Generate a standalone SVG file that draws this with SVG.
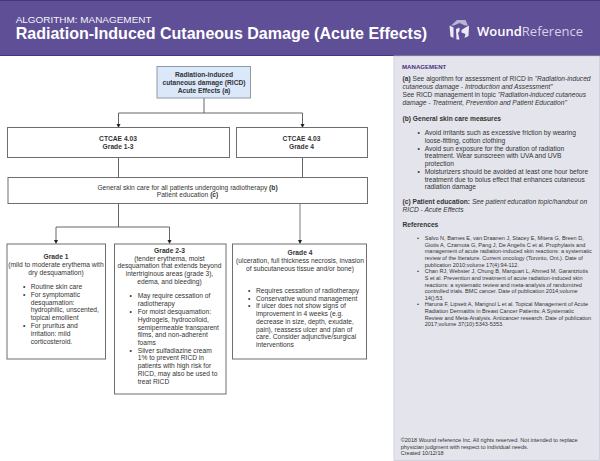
<svg xmlns="http://www.w3.org/2000/svg" width="600" height="461" viewBox="0 0 600 461">
<style>
text{font-family:"Liberation Sans",Arial,sans-serif;fill:#333;font-size:6.68px}
.c{text-anchor:middle}
.b{font-weight:bold}
.i{font-style:italic}
.box{fill:#fff;stroke:#6e6e6e;stroke-width:1}
.ln{fill:none;stroke:#555;stroke-width:.9}
.p{font-size:6.65px}
.r{font-size:5.56px}
.f{font-size:5.55px}
.d{fill:#222}
</style>
<rect width="600" height="461" fill="#fff"/>
<g id="header">
<rect x="0" y="0" width="600" height="55.5" fill="#5f4f96"/>
<path d="M0,.5H600M0,55.5H600" stroke="#46367d" stroke-width="1"/>
<text x="15.7" y="22.900" style="font-size:9.95px;fill:#f4f3f9">ALGORITHM: MANAGEMENT</text>
<text class="b" x="15.7" y="39" style="font-size:16.05px;fill:#fff">Radiation-Induced Cutaneous Damage (Acute Effects)</text>
<path d="M451,25.500L457,20L459.500,20L465.500,20L468,25.500L465,25.500L459.500,23L454,25.500Z" fill="#b9b4d2"/>
<path d="M449.500,25.500L453.500,27.500V38L450.500,36.500ZM456,29L459.500,27.500V31L458,33L459.500,39.500L456.500,39.500ZM461.500,30L465.500,27.500L469,25.500L468.500,36L464.500,38L465.500,34L461.500,32.500Z" fill="#eceaf4"/>
<text x="477" y="36" style="font-family:'Open Sans',sans-serif;font-size:13px;font-weight:600;fill:#fff">Wound<tspan style="fill:#d5d1e6;font-weight:400">Reference</tspan></text>
</g>
<g id="side-panel">
<rect x="394" y="56" width="205.500" height="404.500" fill="#e4e5ec" stroke="#c9cad6" stroke-width=".8"/>
<text class="b" x="402" y="68.500" style="font-size:6.100px;fill:#4b2f7e">MANAGEMENT</text>
<text class="p" x="402.500" y="81.400"><tspan class="b">(a)</tspan> See algorithm for assessment of RICD in <tspan class="i">"Radiation-induced</tspan></text>
<text class="p i" x="402.500" y="89.200">cutaneous damage - Introduction and Assessment"</text>
<text class="p" x="402.500" y="97">See RICD management in topic <tspan class="i">"Radiation-induced cutaneous</tspan></text>
<text class="p i" x="402.500" y="104.800">damage - Treatment, Prevention and Patient Education"</text>
<text class="p b" x="402.500" y="120.800">(b) General skin care measures</text>
<text class="p" x="417.500" y="135.400">•</text><text class="p" x="424.700" y="135.400">Avoid irritants such as excessive friction by wearing</text>
<text class="p" x="424.700" y="143.100">loose-fitting, cotton clothing</text>
<text class="p" x="417.500" y="150.800">•</text><text class="p" x="424.700" y="150.800">Avoid sun exposure for the duration of radiation</text>
<text class="p" x="424.700" y="158.400">treatment. Wear sunscreen with UVA and UVB</text>
<text class="p" x="424.700" y="166.100">protection</text>
<text class="p" x="417.500" y="173.800">•</text><text class="p" x="424.700" y="173.800">Moisturizers should be avoided at least one hour before</text>
<text class="p" x="424.700" y="181.500">treatment due to bolus effect that enhances cutaneous</text>
<text class="p" x="424.700" y="189.200">radiation damage</text>
<text class="p" x="402.500" y="203.700"><tspan class="b">(c) Patient education:</tspan> <tspan class="i">See patient education topic/handout on</tspan></text>
<text class="p i" x="402.500" y="211.500">RICD - Acute Effects</text>
<text class="p b" x="402.500" y="227">References</text>
<text class="r" x="417" y="240">•</text><text class="r" x="424.700" y="240">Salvo N, Barnes E, van Draanen J, Stacey E, Mitera G, Breen D,</text>
<text class="r" x="424.700" y="246.600">Giotis A, Czarnota G, Pang J, De Angelis C et al. Prophylaxis and</text>
<text class="r" x="424.700" y="253.200">management of acute radiation-induced skin reactions: a systematic</text>
<text class="r" x="424.700" y="259.800">review of the literature. Current oncology (Toronto, Ont.). Date of</text>
<text class="r" x="424.700" y="266.500">publication 2010;volume 17(4):94-112.</text>
<text class="r" x="417" y="273.200">•</text><text class="r" x="424.700" y="273.200">Chan RJ, Webster J, Chung B, Marquart L, Ahmed M, Garantziotis</text>
<text class="r" x="424.700" y="279.900">S et al. Prevention and treatment of acute radiation-induced skin</text>
<text class="r" x="424.700" y="286.500">reactions: a systematic review and meta-analysis of randomized</text>
<text class="r" x="424.700" y="293.100">controlled trials. BMC cancer. Date of publication 2014;volume</text>
<text class="r" x="424.700" y="299.800">14():53.</text>
<text class="r" x="417" y="306.400">•</text><text class="r" x="424.700" y="306.400">Haruna F, Lipsett A, Marignol L et al. Topical Management of Acute</text>
<text class="r" x="424.700" y="313">Radiation Dermatitis in Breast Cancer Patients: A Systematic</text>
<text class="r" x="424.700" y="319.700">Review and Meta-Analysis. Anticancer research. Date of publication</text>
<text class="r" x="424.700" y="326.400">2017;volume 37(10):5343-5353.</text>
<text class="f" x="400.700" y="442">©2018 Wound reference Inc. All rights reserved. Not intended to replace</text>
<text class="f" x="400.700" y="448.700">physician judgment with respect to individual needs.</text>
<text class="f" x="400.700" y="455.400">Created 10/12/18</text>
</g>
<g id="connectors">
<path class="ln" d="M204,98V113"/>
<path class="ln" d="M118.500,127V113H302.500V127"/>
<path class="d" d="M116.500,124H120.500L118.500,128ZM300.500,124H304.500L302.500,128Z"/>
<path class="ln" d="M118.500,157.500V177.500M302.500,157.500V177.500M118.500,203.500V227"/>
<path class="ln" d="M56,243V227H169.500V243"/>
<path class="d" d="M54,240H58L56,244ZM167.500,240H171.500L169.500,244Z"/>
<path d="M300,203.500V243" fill="none" stroke="#999" stroke-width="1.300"/>
<path class="d" d="M298,240H302L300,244Z"/>
</g>
<g id="root">
<rect x="157" y="66.500" width="93.500" height="31.500" fill="#dbe8fa" stroke="#8f9aa8" stroke-width="1"/>
<text class="c b" x="204" y="77.100">Radiation-induced</text>
<text class="c b" x="204" y="85">cutaneous damage (RICD)</text>
<text class="c b" x="204" y="92.900">Acute Effects (a)</text>
</g>
<g id="ctcae-1-3">
<rect class="box" x="7.500" y="127.500" width="222" height="30"/>
<text class="c b" x="118" y="141.300">CTCAE 4.03</text>
<text class="c b" x="118" y="149">Grade 1-3</text>
</g>
<g id="ctcae-4">
<rect class="box" x="236.500" y="127.500" width="131" height="30"/>
<text class="c b" x="301.500" y="141.300">CTCAE 4.03</text>
<text class="c b" x="301.500" y="149">Grade 4</text>
</g>
<g id="general-care">
<rect class="box" x="8" y="177.500" width="359.500" height="26"/>
<text class="c" x="187.500" y="189.600">General skin care for all patients undergoing radiotherapy <tspan class="b">(b)</tspan></text>
<text class="c" x="187.500" y="197.400">Patient education <tspan class="b">(c)</tspan></text>
</g>
<g id="grade-1">
<rect class="box" x="7" y="244" width="98.500" height="115"/>
<text class="c b" x="56" y="259">Grade 1</text>
<text class="c" x="56" y="266.800">(mild to moderate erythema with</text>
<text class="c" x="56" y="274.600">dry desquamation)</text>
<text x="23" y="289">•</text><text x="30.700" y="289">Routine skin care</text>
<text x="23" y="296.800">•</text><text x="30.700" y="296.800">For symptomatic</text>
<text x="30.700" y="304.600">desquamation:</text>
<text x="30.700" y="312.400">hydrophilic, unscented,</text>
<text x="30.700" y="320.200">topical emollient</text>
<text x="23" y="328">•</text><text x="30.700" y="328">For pruritus and</text>
<text x="30.700" y="335.800">irritation: mild</text>
<text x="30.700" y="343.600">corticosteroid.</text>
</g>
<g id="grade-2-3">
<rect class="box" x="114.500" y="244" width="111.500" height="150"/>
<text class="c b" x="169.500" y="252.600">Grade 2-3</text>
<text class="c" x="169.500" y="260.600">(tender erythema, moist</text>
<text class="c" x="169.500" y="268.400">desquamation that extends beyond</text>
<text class="c" x="169.500" y="276.200">intertriginous areas (grade 3),</text>
<text class="c" x="169.500" y="284">edema, and bleeding)</text>
<text x="129.500" y="298.300">•</text><text x="137.700" y="298.300">May require cessation of</text>
<text x="137.700" y="306.300">radiotherapy</text>
<text x="129.500" y="314">•</text><text x="137.700" y="314">For moist desquamation:</text>
<text x="137.700" y="321.700">Hydrogels, hydrocolloid,</text>
<text x="137.700" y="329.700">semipermeable transparent</text>
<text x="137.700" y="337.300">films, and non-adherent</text>
<text x="137.700" y="345">foams</text>
<text x="129.500" y="352.600">•</text><text x="137.700" y="352.600">Silver sulfadiazine cream</text>
<text x="137.700" y="360.300">1%  to prevent RICD in</text>
<text x="137.700" y="368.300">patients with high risk for</text>
<text x="137.700" y="376">RICD, may also be used to</text>
<text x="137.700" y="383.700">treat RICD</text>
</g>
<g id="grade-4">
<rect class="box" x="232.500" y="244" width="134" height="115"/>
<text class="c b" x="300" y="254.600">Grade 4</text>
<text class="c" x="300" y="262.900">(ulceration, full thickness necrosis, invasion</text>
<text class="c" x="300" y="270.700">of subcutaneous tissue and/or bone)</text>
<text x="248" y="292.900">•</text><text x="256" y="292.900">Requires cessation of radiotherapy</text>
<text x="248" y="300.600">•</text><text x="256" y="300.600">Conservative wound management</text>
<text x="248" y="308.300">•</text><text x="256" y="308.300">If ulcer does not show signs of</text>
<text x="256" y="316.100">improvement in 4 weeks (e.g.</text>
<text x="256" y="323.800">decrease in size, depth, exudate,</text>
<text x="256" y="331.500">pain), reassess ulcer and plan of</text>
<text x="256" y="339.200">care. Consider adjunctive/surgical</text>
<text x="256" y="347">interventions</text>
</g>
</svg>
